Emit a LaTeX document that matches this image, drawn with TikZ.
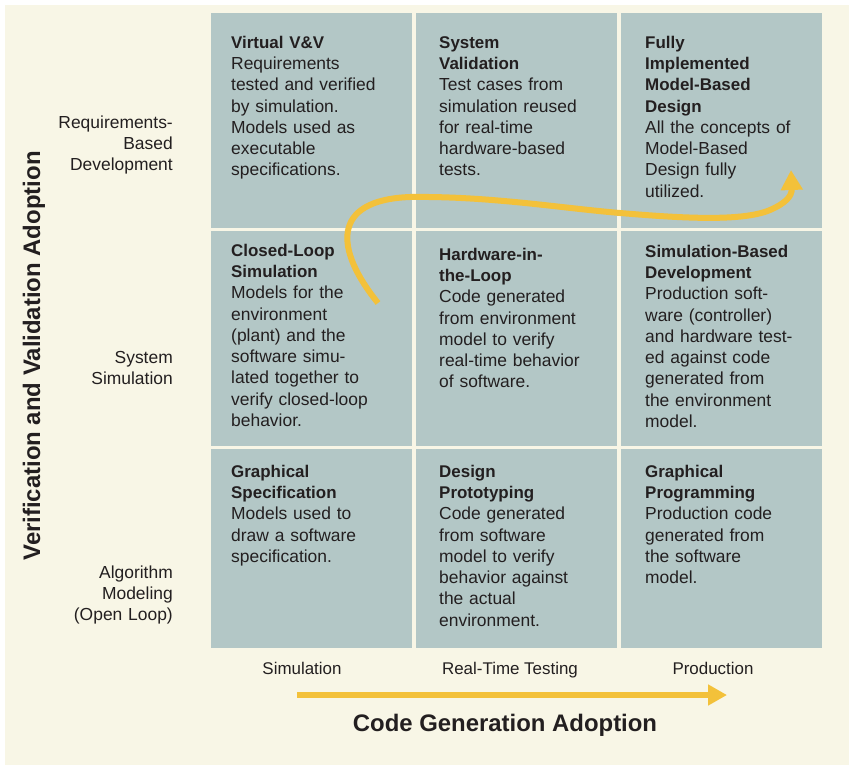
\documentclass[tikz,border=0pt]{standalone}
\usepackage{fontspec}
\setmainfont{Liberation Sans}
\usetikzlibrary{arrows.meta}
\setlength\parindent{0pt}
\definecolor{cream}{HTML}{F8F6E6}
\definecolor{cellc}{HTML}{B3C7C6}
\definecolor{yel}{HTML}{F3C13A}
\definecolor{ink}{HTML}{231F20}
\newcommand\ttl[1]{{\fontsize{17}{21.35}\selectfont\bfseries #1}}
\newcommand\stt{\rule{0pt}{14bp}}
\begin{document}
\begin{tikzpicture}[x=1bp,y=-1bp,
  cell/.style={fill=cellc},
  desc/.style={anchor=north west,inner sep=0pt,text width=185bp,align=left,text=ink,
    font=\fontsize{17.5}{21.35}\selectfont},
  rowlab/.style={anchor=north east,inner sep=0pt,text width=150bp,align=right,text=ink,
    font=\fontsize{17.5}{21.2}\selectfont},
  collab/.style={anchor=base,inner sep=0pt,text=ink,font=\fontsize{17}{21}\selectfont},
  axis/.style={inner sep=0pt,text=ink,font=\fontsize{24}{28}\selectfont\bfseries},
  yarrow/.style={draw=yel,line width=6bp,-{Triangle[length=20bp,width=21bp]}}
]
\useasboundingbox (0,0) rectangle (849,765);
\fill[white] (0,0) rectangle (849,765);
\fill[cream] (5,5) rectangle (849,765);
% grid cells
\foreach \xa/\xb in {211/412,416/617,621/822}{
  \foreach \ya/\yb in {13/228,231/446,449/648}{
    \fill[cell] (\xa,\ya) rectangle (\xb,\yb);
  }
}
% row 1
\node[desc] (c11) at (231,34) {\stt\ttl{Virtual V\&V}\\Requirements\\tested and verified\\by simulation.\\Models used as\\executable\\specifications.};
\node[desc] (c21) at (439,34) {\stt\ttl{System\\Validation}\\Test cases from\\simulation reused\\for real-time\\hardware-based\\tests.};
\node[desc] (c31) at (645,34) {\stt\ttl{Fully\\Implemented\\Model-Based\\Design}\\All the concepts of\\Model-Based\\Design fully\\utilized.};
% row 2
\node[desc] (c12) at (231,242) {\stt\ttl{Closed-Loop\\Simulation}\\Models for the\\environment\\(plant) and the\\software simu-\\lated together to\\verify closed-loop\\behavior.};
\node[desc] (c22) at (439,246) {\stt\ttl{Hardware-in-\\the-Loop}\\Code generated\\from environment\\model to verify\\real-time behavior\\of software.};
\node[desc] (c32) at (645,243) {\stt\ttl{Simulation-Based\\Development}\\Production soft-\\ware (controller)\\and hardware test-\\ed against code\\generated from\\the environment\\model.};
% row 3
\node[desc] (c13) at (231,463) {\stt\ttl{Graphical\\Specification}\\Models used to\\draw a software\\specification.};
\node[desc] (c23) at (439,463) {\stt\ttl{Design\\Prototyping}\\Code generated\\from software\\model to verify\\behavior against\\the actual\\environment.};
\node[desc] (c33) at (645,463) {\stt\ttl{Graphical\\Programming}\\Production code\\generated from\\the software\\model.};
% row labels
\node[rowlab] (r1) at (173,114) {\stt Requirements-\\Based\\Development};
\node[rowlab] (r2) at (173,349) {\stt System\\Simulation};
\node[rowlab] (r3) at (173,564) {\stt Algorithm\\Modeling\\(Open Loop)};
% column labels
\node[collab] (k1) at (302,674) {Simulation};
\node[collab] (k2) at (510,674) {Real-Time Testing};
\node[collab] (k3) at (713,674) {Production};
% axis titles
\node[axis,anchor=base] (xt) at (505,731) {Code Generation Adoption};
\node[axis,anchor=base,rotate=90] (yt) at (40,356) {Verification and Validation Adoption};
% bottom arrow
\coordinate (xa0) at (297,695);
\coordinate (xa1) at (727,695);
\draw[draw=yel,line width=5.5bp,-{Triangle[length=19bp,width=20bp]}] (xa0) -- (xa1);
% curved arrow
\coordinate (p0) at (378,303);
\coordinate (p1) at (410,197);
\coordinate (p2) at (620,213);
\coordinate (p3) at (770,210);
\coordinate (p4) at (791,170);
\draw[yarrow] (p0) .. controls (335,250) and (330,200) .. (p1)
  .. controls (490,196) and (560,208) .. (p2)
  .. controls (680,218) and (742,222) .. (p3)
  .. controls (786,203) and (792,196) .. (p4);
\end{tikzpicture}
\end{document}
